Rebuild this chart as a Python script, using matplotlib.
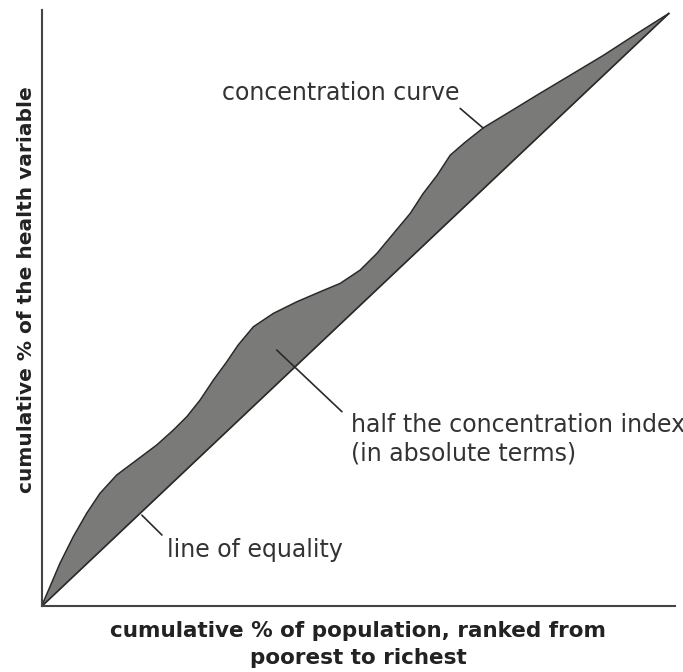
import matplotlib
matplotlib.use('Agg')
import matplotlib.pyplot as plt

# cumulative % of population (x) and of the health variable (y)
pop_share = [0, 1.36, 2.95, 5.07, 7.21, 9.33, 12.00, 15.19, 18.38, 21.03, 23.17,
             25.29, 27.41, 29.55, 31.35, 33.79, 36.98, 40.71, 44.43, 47.62, 50.81,
             53.48, 56.13, 58.79, 60.87, 63.10, 65.17, 67.56, 70.49, 74.22, 79.00,
             84.32, 89.63, 94.96, 100]
health_share = [0, 3.34, 7.28, 11.77, 15.71, 19.08, 22.17, 24.70, 27.23, 29.75, 32.00,
                34.81, 38.18, 41.27, 44.08, 47.17, 49.43, 51.38, 53.07, 54.48, 56.73,
                59.54, 62.91, 66.28, 69.66, 72.74, 76.11, 78.30, 80.75, 83.14, 86.23,
                89.60, 92.97, 96.63, 100]
equality = [0, 100]

fig = plt.figure(figsize=(6.83, 6.72), dpi=100)
ax = fig.add_axes([0.0608, 0.0975, 0.9275, 0.8876])

ax.fill_between(pop_share, health_share, pop_share, color='#7a7a78', lw=0)
ax.plot(pop_share, health_share, color='#2a2a2a', lw=1.2, solid_joinstyle='round')
ax.plot(equality, equality, color='#2a2a2a', lw=1.2)

ax.set_xlim(0, 101)
ax.set_ylim(0, 100.6)
ax.set_xticks([])
ax.set_yticks([])
for side in ['top', 'right']:
    ax.spines[side].set_visible(False)
for side in ['left', 'bottom']:
    ax.spines[side].set_color('#444444')
    ax.spines[side].set_linewidth(1.5)

lead = dict(arrowstyle='-', color='#2a2a2a', lw=1.2, shrinkA=0, shrinkB=0)
ax.annotate('', xy=(70.4, 80.7), xytext=(66.75, 84.0), arrowprops=lead)
ax.annotate('', xy=(37.5, 43.25), xytext=(47.9, 32.85), arrowprops=lead)
ax.annotate('', xy=(16.0, 15.4), xytext=(19.2, 12.05), arrowprops=lead)

txt = dict(fontsize=17, color='#333333', family='DejaVu Sans', va='baseline', ha='left')
ax.text(28.7, 85.4, 'concentration curve', **txt)
ax.text(49.4, 29.5, 'half the concentration index', clip_on=False, **txt)
ax.text(49.4, 24.7, '(in absolute terms)', **txt)
ax.text(20.0, 8.4, 'line of equality', **txt)

lab = dict(fontweight='bold', color='#222222', family='DejaVu Sans')
fig.text(358 / 683, 1 - 637 / 672, 'cumulative % of population, ranked from',
         ha='center', va='baseline', fontsize=15.5, **lab)
fig.text(358 / 683, 1 - 664 / 672, 'poorest to richest', ha='center', va='baseline',
         fontsize=15.5, **lab)
fig.text(26.5 / 683, 1 - 290 / 672, 'cumulative % of the health variable',
         rotation=90, ha='center', va='center', fontsize=14.5, **lab)

fig.savefig('out.png', dpi=100)
